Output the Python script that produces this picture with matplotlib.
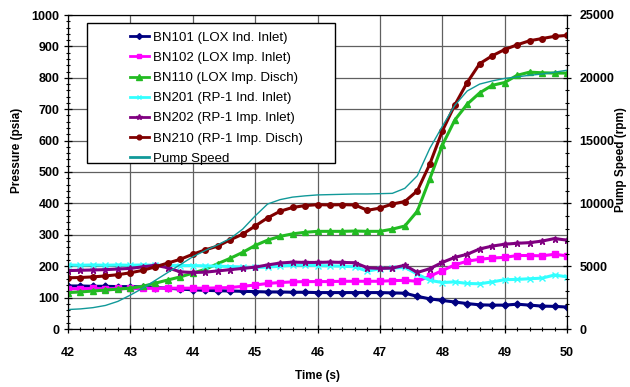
import matplotlib
matplotlib.use('Agg')
import matplotlib.pyplot as plt
from matplotlib.patches import Rectangle
from matplotlib.ticker import MultipleLocator
import numpy as np

plt.rcParams['font.family'] = ['Liberation Sans', 'DejaVu Sans']

# time in seconds, 0.2 s steps
t = np.arange(42.0, 50.01, 0.2)

bn101 = [137, 137, 136, 136, 135, 135, 134, 132, 130, 127,
         125, 123, 122, 121, 120, 119, 118, 118, 117, 117,
         116, 116, 116, 116, 116, 116, 115, 114, 104, 96,
         91, 86, 81, 77, 76, 76, 79, 76, 73, 72, 70]
bn102 = [128, 128, 129, 128, 129, 129, 129, 130, 130, 130,
         130, 130, 131, 132, 136, 140, 145, 148, 150, 151,
         151, 151, 152, 152, 152, 152, 154, 155, 152, 168,
         186, 204, 216, 222, 226, 228, 234, 234, 233, 238, 233]
bn110 = [116, 118, 121, 124, 127, 130, 136, 146, 156, 166,
         178, 190, 208, 225, 244, 266, 283, 295, 303, 308,
         311, 311, 311, 312, 311, 311, 318, 328, 375, 478,
         585, 665, 716, 752, 776, 785, 808, 818, 816, 815, 815]
bn201 = [204, 203, 204, 203, 204, 203, 204, 203, 203, 202,
         202, 201, 200, 199, 197, 196, 197, 200, 203, 203,
         202, 201, 200, 198, 184, 192, 194, 196, 175, 155,
         148, 150, 145, 144, 150, 157, 158, 160, 162, 172, 166]
bn202 = [186, 187, 188, 189, 191, 193, 198, 203, 195, 182,
         180, 181, 185, 189, 193, 197, 204, 210, 213, 212,
         212, 213, 212, 211, 195, 193, 194, 203, 180, 192,
         212, 228, 238, 255, 264, 270, 273, 275, 280, 288, 283]
bn210 = [163, 164, 166, 169, 173, 179, 187, 198, 210, 222,
         238, 252, 264, 284, 302, 328, 354, 375, 387, 393,
         396, 395, 396, 395, 378, 385, 398, 406, 440, 525,
         630, 713, 785, 845, 870, 890, 905, 918, 925, 932, 935]
pump_rpm = [1550, 1600, 1700, 1875, 2200, 2700, 3250, 3875, 4500, 5125,
            5750, 6250, 6700, 7200, 7950, 9000, 9950, 10300, 10500, 10600,
            10675, 10700, 10725, 10750, 10750, 10775, 10800, 11200, 12200, 14375,
            16125, 17800, 18950, 19500, 19750, 19950, 20075, 20200, 20300, 20450, 20600]

labels = ['BN101 (LOX Ind. Inlet)', 'BN102 (LOX Imp. Inlet)', 'BN110 (LOX Imp. Disch)',
          'BN201 (RP-1 Ind. Inlet)', 'BN202 (RP-1 Imp. Inlet)', 'BN210 (RP-1 Imp. Disch)',
          'Pump Speed']

fig = plt.figure(figsize=(6.3, 3.87), dpi=100)
ax = fig.add_axes([68/630, 1-329/387, 499/630, 314/387])
ax2 = ax.twinx()

styles = [
    (bn101, '#000080', 'D', 3.5),
    (bn102, '#FF00FF', 's', 4),
    (bn110, '#22BB22', '^', 4.5),
    (bn201, '#33FFFF', 'x', 4),
    (bn202, '#800080', '*', 5),
    (bn210, '#800000', 'o', 4),
]
handles = []
for (y, c, m, ms), lab in zip(styles, labels):
    h, = ax.plot(t, y, color=c, linewidth=2.2, marker=m, markersize=ms,
                 markeredgewidth=1, label=lab)
    handles.append(h)

h, = ax2.plot(t, pump_rpm, color='#119999', linewidth=1, label=labels[-1])
handles.append(h)

ax.set_xlim(42, 50)
ax.set_ylim(0, 1000)
ax2.set_ylim(0, 25000)
ax.xaxis.set_major_locator(MultipleLocator(1))
ax.xaxis.set_minor_locator(MultipleLocator(0.2))
ax.yaxis.set_major_locator(MultipleLocator(100))
ax.yaxis.set_minor_locator(MultipleLocator(20))
ax2.yaxis.set_major_locator(MultipleLocator(5000))
ax2.yaxis.set_minor_locator(MultipleLocator(1000))

ax.grid(True, which='major', color='#606060', linewidth=0.9)
ax.set_axisbelow(True)

for a in (ax, ax2):
    a.tick_params(which='major', direction='inout', length=6, width=0.9)
    a.tick_params(which='minor', direction='inout', length=3.5, width=0.8)
    for lbl in a.get_yticklabels() + a.get_xticklabels():
        lbl.set_fontweight('bold')
        lbl.set_fontsize(9)
ax.tick_params(axis='x', pad=10)
ax.tick_params(axis='y', pad=3)
ax2.tick_params(axis='y', pad=6)

fig.text(0.5 * (68 + 567) / 630, 1 - 376/387, 'Time (s)', ha='center', va='center',
         fontsize=8.5, fontweight='bold')
fig.text(17/630, 1 - 150/387, 'Pressure (psia)', ha='center', va='center',
         rotation=90, fontsize=8.5, fontweight='bold')
fig.text(621/630, 1 - 160/387, 'Pump Speed (rpm)', ha='center', va='center',
         rotation=90, fontsize=8.5, fontweight='bold')

# legend box
ax2.add_patch(Rectangle((19/499, (329-163)/314), (335-87)/499, (163-23)/314,
                        transform=ax2.transAxes, facecolor='white', edgecolor='black',
                        linewidth=1, zorder=5))
leg = ax2.legend(handles=handles, loc='upper left', bbox_to_anchor=(55/499, (329-25)/314),
                 frameon=False, borderpad=0, handlelength=1.5, handletextpad=0.25,
                 labelspacing=0.6, fontsize=9.5, numpoints=1, markerscale=0.85)
leg.set_zorder(6)
for lh in leg.get_lines():
    lh.set_linewidth(2)

fig.savefig('out.png', dpi=100)
